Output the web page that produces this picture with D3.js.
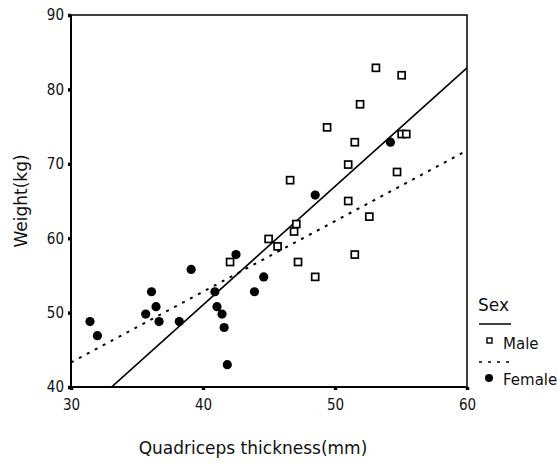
<!DOCTYPE html>
<html>
<head>
<meta charset="utf-8">
<script src="https://cdn.jsdelivr.net/npm/d3@7"></script>
<style>
  body { margin: 0; background: #fff; }
  svg { display: block; }
  .tick-label { font-family: "DejaVu Sans Condensed", "DejaVu Sans", sans-serif; font-size: 15px; fill: #111; }
  .axis-label { font-family: "DejaVu Sans", sans-serif; font-size: 17px; fill: #111; }
  .legend-text { font-family: "DejaVu Sans", sans-serif; font-size: 15px; fill: #111; }
</style>
</head>
<body>
<div id="chart"></div>
<script>
 // plot frame inside the 557x466 window
 const margin = {top: 15, right: 90, bottom: 79, left: 71};
 const W = 557, H = 466;
 const width = W - margin.left - margin.right;
 const height = H - margin.top - margin.bottom;

 // ticks
 const xTicks = [30, 40, 50, 60];
 const yTicks = [40, 50, 60, 70, 80, 90];

 // Male: quadriceps thickness (mm), weight (kg)
 const maleThickness = [53.1, 55.05, 51.9, 49.4, 51.5, 55.05, 55.4, 51.0, 54.7, 46.6,
                        51.0, 52.6, 47.07, 46.9, 44.97, 45.65, 51.5, 42.05, 47.2, 48.5];
 const maleWeight    = [82.9, 81.9, 78.0, 74.9, 72.9, 74.0, 74.0, 69.9, 68.9, 67.8,
                        65.0, 62.9, 61.9, 60.9, 59.9, 58.9, 57.8, 56.8, 56.8, 54.8];

 // Female
 const femaleThickness = [31.44, 32.0, 35.66, 36.1, 36.44, 36.67, 38.2, 39.1, 40.9, 41.06,
                          41.44, 41.6, 41.84, 42.5, 43.9, 44.6, 48.5, 54.2];
 const femaleWeight    = [48.8, 46.9, 49.8, 52.8, 50.8, 48.8, 48.8, 55.8, 52.8, 50.8,
                          49.8, 48.0, 43.0, 57.8, 52.8, 54.8, 65.8, 72.9];

 // fitted lines, endpoints at x = 30 and x = 60
 const fitX = [30, 60];
 const maleFitY = [35.1, 82.9];
 const femaleFitY = [43.3, 71.8];

 const svg = d3.select("#chart").append("svg")
     .attr("width", W).attr("height", H);

 const g = svg.append("g")
     .attr("transform", `translate(${margin.left},${margin.top})`);

 const x = d3.scaleLinear().domain([30, 60]).range([0, width]);
 const y = d3.scaleLinear().domain([40, 90]).range([height, 0]);

 g.append("clipPath").attr("id", "plot-clip")
   .append("rect").attr("width", width).attr("height", height);

 // fit lines
 const line = d3.line().x(d => x(d[0])).y(d => y(d[1]));
 const plot = g.append("g").attr("clip-path", "url(#plot-clip)");
 plot.append("path")
     .attr("d", line(fitX.map((v, i) => [v, maleFitY[i]])))
     .attr("fill", "none").attr("stroke", "#000").attr("stroke-width", 1.6);
 plot.append("path")
     .attr("d", line(fitX.map((v, i) => [v, femaleFitY[i]])))
     .attr("fill", "none").attr("stroke", "#000").attr("stroke-width", 2)
     .attr("stroke-dasharray", "3,6");

 // frame
 g.append("rect")
     .attr("width", width).attr("height", height)
     .attr("fill", "none").attr("stroke", "#000").attr("stroke-width", 1.5);
 g.append("line").attr("x1", 0).attr("x2", 0).attr("y1", 0).attr("y2", height + 1)
     .attr("stroke", "#000").attr("stroke-width", 2);
 g.append("line").attr("x1", -1).attr("x2", width).attr("y1", height).attr("y2", height)
     .attr("stroke", "#000").attr("stroke-width", 2);

 // axes (tick dots + labels)
 const xAxis = g.append("g").attr("transform", `translate(0,${height})`)
     .call(d3.axisBottom(x).tickValues(xTicks).tickSize(3).tickPadding(6));
 const yAxis = g.append("g")
     .call(d3.axisLeft(y).tickValues(yTicks).tickSize(3).tickPadding(4));
 [xAxis, yAxis].forEach(a => {
     a.select(".domain").remove();
     a.selectAll(".tick line").attr("stroke", "#000").attr("stroke-width", 3.5);
     a.selectAll(".tick text").attr("class", "tick-label").attr("fill", null);
 });
 xAxis.selectAll(".tick text").attr("dy", "0.9em");

 // axis titles
 svg.append("text").attr("class", "axis-label")
     .attr("x", 253).attr("y", 454).attr("text-anchor", "middle")
     .text("Quadriceps thickness(mm)");
 svg.append("text").attr("class", "axis-label")
     .attr("transform", `translate(27,${margin.top + height / 2}) rotate(-90)`)
     .attr("text-anchor", "middle")
     .text("Weight(kg)");

 // points
 g.selectAll(".male").data(maleThickness).enter().append("rect")
     .attr("class", "male")
     .attr("x", (d, i) => x(d) - 3.5).attr("y", (d, i) => y(maleWeight[i]) - 3.5)
     .attr("width", 7).attr("height", 7)
     .attr("fill", "#fff").attr("stroke", "#000").attr("stroke-width", 1.7);
 g.selectAll(".female").data(femaleThickness).enter().append("circle")
     .attr("class", "female")
     .attr("cx", d => x(d)).attr("cy", (d, i) => y(femaleWeight[i]))
     .attr("r", 4.6).attr("fill", "#000");

 // legend
 const lg = svg.append("g").attr("transform", "translate(478,0)");
 lg.append("text").attr("class", "legend-text").style("font-size", "17px")
     .attr("x", 0).attr("y", 311).text("Sex");
 lg.append("line").attr("x1", 1).attr("x2", 33).attr("y1", 324).attr("y2", 324)
     .attr("stroke", "#000").attr("stroke-width", 1.5);
 lg.append("rect").attr("x", 9).attr("y", 338).attr("width", 5).attr("height", 5)
     .attr("fill", "#fff").attr("stroke", "#000").attr("stroke-width", 1.4);
 lg.append("text").attr("class", "legend-text").attr("x", 25).attr("y", 349).text("Male");
 lg.append("line").attr("x1", 1).attr("x2", 33).attr("y1", 362).attr("y2", 362)
     .attr("stroke", "#000").attr("stroke-width", 1.5).attr("stroke-dasharray", "3,6");
 lg.append("circle").attr("cx", 11).attr("cy", 378).attr("r", 4).attr("fill", "#000");
 lg.append("text").attr("class", "legend-text").attr("x", 25).attr("y", 385).text("Female");
</script>
</body>
</html>
